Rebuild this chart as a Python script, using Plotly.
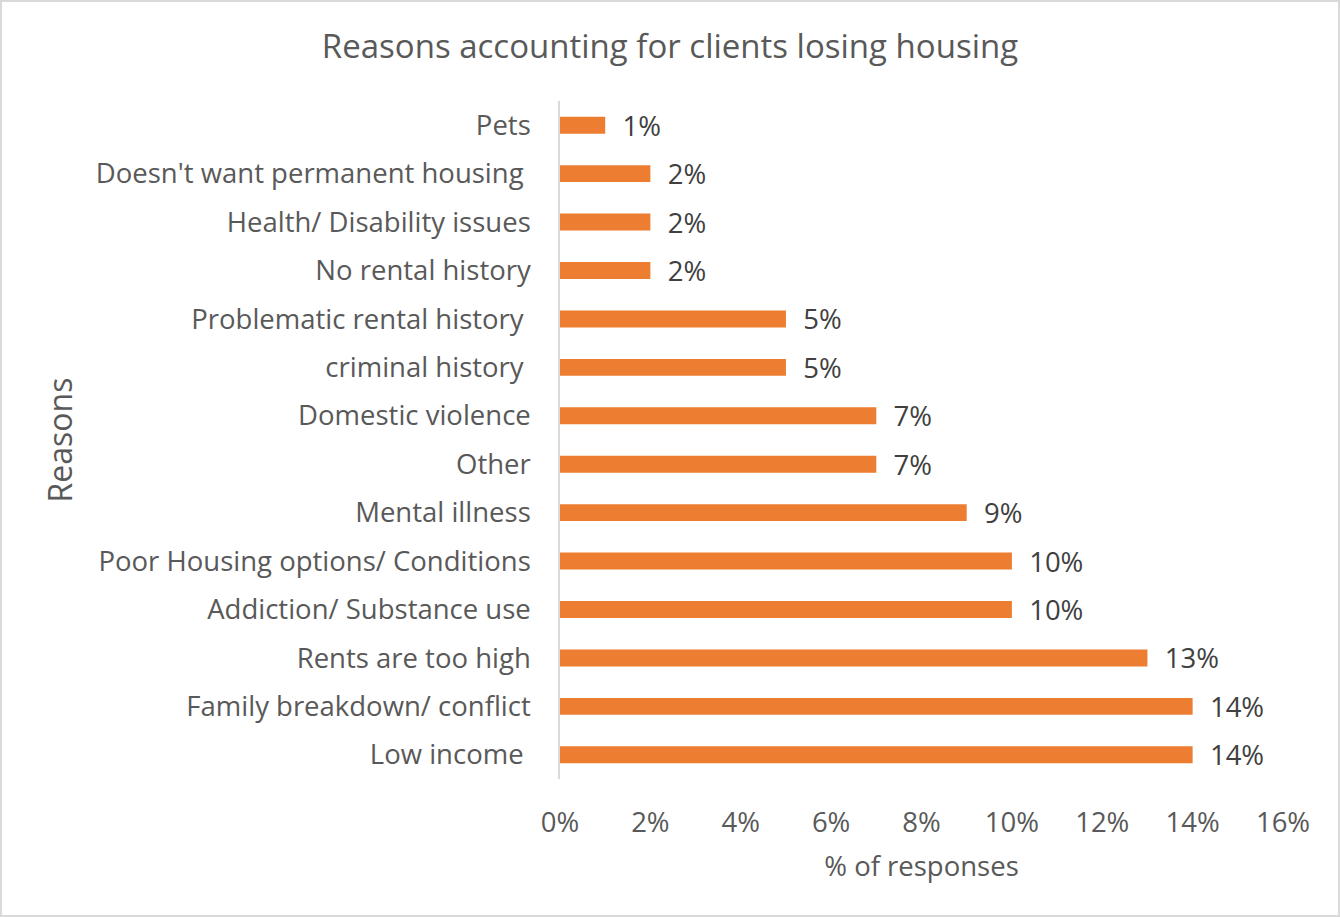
import plotly.graph_objects as go

categories = [
    "Pets",
    "Doesn't want permanent housing\u00a0",
    "Health/ Disability issues",
    "No rental history",
    "Problematic rental history\u00a0",
    "criminal history\u00a0",
    "Domestic violence",
    "Other",
    "Mental illness",
    "Poor Housing options/ Conditions",
    "Addiction/ Substance use",
    "Rents are too high",
    "Family breakdown/ conflict",
    "Low income\u00a0",
]
values = [0.01, 0.02, 0.02, 0.02, 0.05, 0.05, 0.07, 0.07, 0.09, 0.10, 0.10, 0.13, 0.14, 0.14]
x_ticks = [0, 0.02, 0.04, 0.06, 0.08, 0.10, 0.12, 0.14, 0.16]
x_tick_labels = ["0%", "2%", "4%", "6%", "8%", "10%", "12%", "14%", "16%"]

W, H = 1340, 917
L, R, T, B = 560, 57, 101, 138
FONT = "Open Sans"
FS = 27.5

fig = go.Figure(go.Bar(
    x=values, y=categories, orientation="h",
    marker=dict(color="#ED7D31", line=dict(width=0)),
    width=0.35,
    text=["\u00a0\u00a0" + f"{v:.0%}" for v in values],
    textposition="outside",
    constraintext="none",
    textfont=dict(family=FONT, size=FS, color="#404040"),
    cliponaxis=False,
))

pw, ph = W - L - R, H - T - B
def px_x(p): return (p - L) / pw
def px_y(p): return (H - B - p) / ph

fig.add_shape(type="rect", xref="paper", yref="paper",
              x0=px_x(1), x1=px_x(W - 1), y0=px_y(H - 1), y1=px_y(1),
              line=dict(color="#D9D9D9", width=2), fillcolor="rgba(0,0,0,0)", layer="below")

fig.update_layout(
    width=W, height=H,
    margin=dict(l=L, r=R, t=T, b=B, autoexpand=False),
    paper_bgcolor="white", plot_bgcolor="white",
    title=dict(text="Reasons accounting for clients losing housing",
               x=0.5, xref="container", xanchor="center",
               y=1 - 46 / H, yref="container", yanchor="middle",
               font=dict(family=FONT, size=33, color="#595959")),
    font=dict(family=FONT, color="#595959"),
    showlegend=False,
)
fig.update_xaxes(
    range=[0, 0.16], tickvals=x_ticks, ticktext=x_tick_labels,
    showgrid=False, zeroline=False, showline=False,
    tickfont=dict(family=FONT, size=FS, color="#595959"),
    ticklabelstandoff=24,
    title=dict(text="% of responses", font=dict(family=FONT, size=FS, color="#595959"), standoff=18),
)
fig.update_yaxes(
    autorange="reversed",
    showgrid=False, zeroline=False,
    showline=True, linecolor="#D9D9D9", linewidth=1.5,
    tickfont=dict(family=FONT, size=FS, color="#595959"),
    ticklabelstandoff=22,
    title=dict(text="Reasons", font=dict(family=FONT, size=32, color="#595959"), standoff=14),
)

fig.write_html("out.html", config={"displayModeBar": False},
               post_script="document.body.style.margin='0px';")
